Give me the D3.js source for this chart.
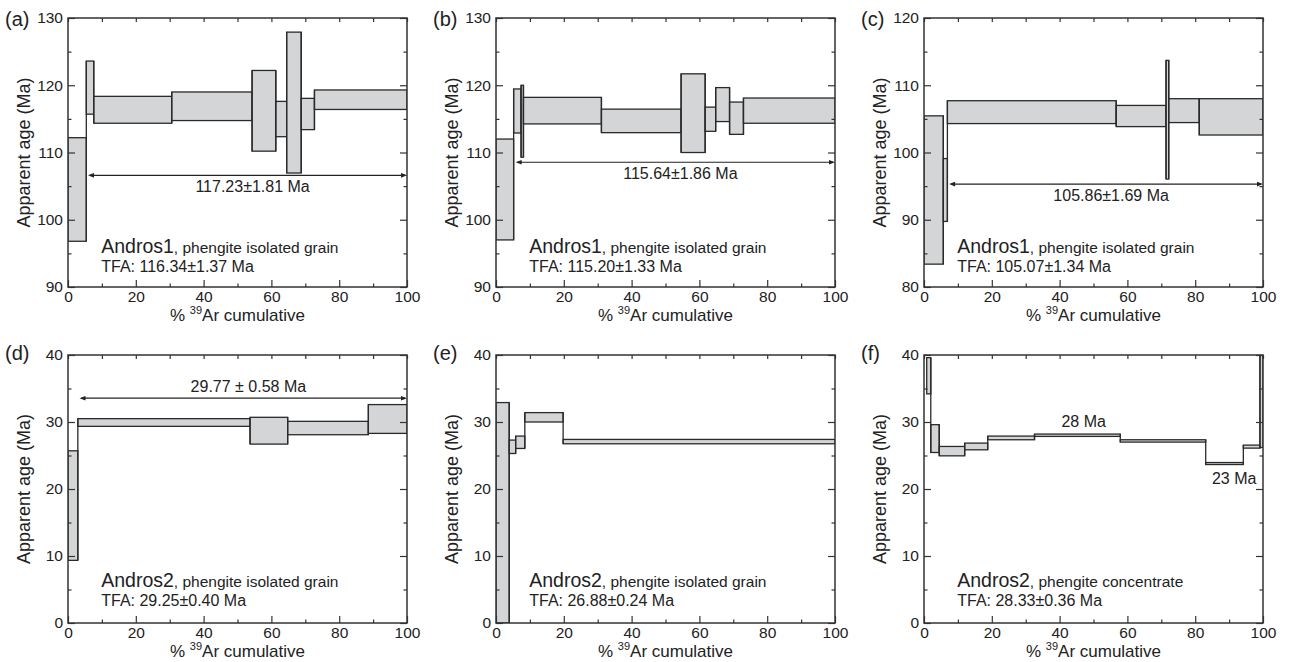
<!DOCTYPE html>
<html>
<head>
<meta charset="utf-8">
<script src="https://cdn.jsdelivr.net/npm/d3@7"></script>
<style>
  body { margin: 0; background: #fff; }
  text { font-family: "Liberation Sans", Arial, Helvetica, sans-serif; fill: #222; }
</style>
</head>
<body>
<div id="canvas"></div>
<script>
// step boundaries (% 39Ar cumulative) and age ranges (Ma)
var aX  = [0, 5.4, 7.6, 30.6, 54.3, 61.3, 64.5, 68.8, 72.7, 100];
var aLo = [96.8, 115.7, 114.35, 114.75, 110.2, 112.35, 106.95, 113.4, 116.4];
var aHi = [112.2, 123.6, 118.35, 119.0, 122.2, 117.6, 127.9, 118.05, 119.3];

var bX  = [0, 5.2, 7.4, 8.1, 31.1, 54.6, 61.7, 64.8, 68.9, 73.0, 100];
var bLo = [97.0, 112.9, 109.3, 114.25, 112.95, 110.0, 113.15, 114.6, 112.7, 114.35];
var bHi = [112.0, 119.45, 120.0, 118.2, 116.45, 121.7, 116.75, 119.65, 117.5, 118.1];

var cX  = [0, 5.7, 6.9, 56.7, 71.4, 72.2, 81.2, 100];
var cLo = [83.4, 89.75, 104.3, 103.85, 96.05, 104.45, 102.6];
var cHi = [105.45, 99.1, 107.7, 107.0, 113.7, 108.0, 108.0];

var dX  = [0, 2.9, 53.7, 64.8, 88.6, 100];
var dLo = [9.35, 29.35, 26.7, 28.1, 28.3];
var dHi = [25.7, 30.5, 30.7, 30.1, 32.6];

var eX  = [0, 3.9, 5.8, 8.5, 19.8, 100];
var eLo = [0, 25.3, 26.05, 30.0, 26.75];
var eHi = [32.9, 27.3, 27.9, 31.4, 27.4];

var fX  = [0.8, 2.0, 4.5, 12.0, 18.8, 32.6, 57.9, 83.1, 94.2, 99.1, 100];
var fLo = [34.2, 25.45, 24.95, 25.85, 27.35, 27.85, 27.0, 23.65, 26.1, 26.2];
var fHi = [39.6, 29.6, 26.35, 26.85, 27.9, 28.2, 27.35, 23.95, 26.55, 46];

// y ranges and tick labels
var yDomainA = [90, 130], yDomainC = [80, 120], yDomainD = [0, 40];
var xTicks = [0, 20, 40, 60, 80, 100];
var xMinor = [10, 30, 50, 70, 90];

// plateau arrows: [from %, to %, age], and their labels
var aPlateau = [5.9, 100, 106.6], aPlateauLabel = "117.23\u00b11.81 Ma";
var bPlateau = [5.8, 100, 108.55], bPlateauLabel = "115.64\u00b11.86 Ma";
var cPlateau = [7.4, 100, 95.3], cPlateauLabel = "105.86\u00b11.69 Ma";
var dPlateau = [3.4, 100, 33.55], dPlateauLabel = "29.77 \u00b1 0.58 Ma";

var sampleNames = ["Andros1", "Andros1", "Andros1", "Andros2", "Andros2", "Andros2"];
var sampleTypes = [", phengite isolated grain", ", phengite isolated grain", ", phengite isolated grain",
                   ", phengite isolated grain", ", phengite isolated grain", ", phengite concentrate"];
var tfaLabels = ["TFA: 116.34\u00b11.37 Ma", "TFA: 115.20\u00b11.33 Ma", "TFA: 105.07\u00b11.34 Ma",
                 "TFA: 29.25\u00b10.40 Ma", "TFA: 26.88\u00b10.24 Ma", "TFA: 28.33\u00b10.36 Ma"];
var panelTags = ["(a)", "(b)", "(c)", "(d)", "(e)", "(f)"];

var fLabels = [[47.1, 29.3, "28 Ma"], [91.5, 20.75, "23 Ma"]];

/* ---- layout ---- */
var colLeft = [68, 496, 924];
var rowTop = [18, 355];
var rowH = [269, 268];
var plotW = 339;

var svg = d3.select('#canvas').append('svg').attr('width', 1290).attr('height', 662);

function steps(xs, lo, hi) {
	var out = [];
	for (var i = 0; i < lo.length; i++) {
		out.push({ x0: xs[i], x1: xs[i + 1], lo: lo[i], hi: hi[i] });
	}
	return out;
}

// vertical risers joining one step to the next
function risers(xs, lo, hi) {
	var out = [];
	for (var i = 1; i < lo.length; i++) {
		out.push({ x: xs[i], lo: Math.min(lo[i - 1], lo[i]), hi: Math.max(hi[i - 1], hi[i]) });
	}
	return out;
}

var panels = [
	{ steps: steps(aX, aLo, aHi), joins: risers(aX, aLo, aHi), dom: yDomainA, plateau: aPlateau, plabel: aPlateauLabel, below: true },
	{ steps: steps(bX, bLo, bHi), joins: risers(bX, bLo, bHi), dom: yDomainA, plateau: bPlateau, plabel: bPlateauLabel, below: true },
	{ steps: steps(cX, cLo, cHi), joins: risers(cX, cLo, cHi), dom: yDomainC, plateau: cPlateau, plabel: cPlateauLabel, below: true },
	{ steps: steps(dX, dLo, dHi), joins: risers(dX, dLo, dHi), dom: yDomainD, plateau: dPlateau, plabel: dPlateauLabel, below: false },
	{ steps: steps(eX, eLo, eHi), joins: risers(eX, eLo, eHi), dom: yDomainD },
	{ steps: steps(fX, fLo, fHi), joins: risers(fX, fLo, fHi), dom: yDomainD, extra: fLabels }
];

panels.forEach(function (p, k) {
	var row = Math.floor(k / 3), col = k % 3;
	var left = colLeft[col], top = rowTop[row], h = rowH[row];

	var x = d3.scaleLinear().domain([0, 100]).range([0, plotW]);
	var y = d3.scaleLinear().domain(p.dom).range([h, 0]);
	var yMajor = d3.range(p.dom[0], p.dom[1] + 1, 10);
	var yMinor = d3.range(p.dom[0] + 5, p.dom[1], 10);

	var g = svg.append('g').attr('transform', 'translate(' + left + ',' + top + ')');

	g.append('clipPath').attr('id', 'clip' + k)
		.append('rect').attr('width', plotW).attr('height', h);

	// age spectrum steps
	var spec = g.append('g').attr('clip-path', 'url(#clip' + k + ')');
	spec.selectAll('rect')
		.data(p.steps)
		.enter()
		.append('rect')
		.attr('x', function (d) { return x(d.x0); })
		.attr('width', function (d) { return x(d.x1) - x(d.x0); })
		.attr('y', function (d) { return y(d.hi); })
		.attr('height', function (d) { return y(d.lo) - y(d.hi); })
		.attr('fill', '#d4d5d7')
		.attr('stroke', '#2a2a2a')
		.attr('stroke-width', 1.3);
	spec.selectAll('line')
		.data(p.joins)
		.enter()
		.append('line')
		.attr('x1', function (d) { return x(d.x); })
		.attr('x2', function (d) { return x(d.x); })
		.attr('y1', function (d) { return y(d.lo); })
		.attr('y2', function (d) { return y(d.hi); })
		.attr('stroke', '#2a2a2a')
		.attr('stroke-width', 1.3);

	// axes, ticks pointing inward on all four sides
	function styleAxis(sel) {
		sel.select('.domain').remove();
		sel.selectAll('line').attr('stroke', '#333').attr('stroke-width', 1.2);
		sel.selectAll('text').attr('font-size', 15.5).style('fill', '#222')
			.attr('font-family', '"Liberation Sans", Arial, sans-serif');
	}

	g.append('g').attr('transform', 'translate(0,' + h + ')')
		.call(d3.axisBottom(x).tickValues(xTicks).tickSizeInner(-7).tickSizeOuter(0).tickPadding(3.5))
		.call(styleAxis);
	g.append('g').attr('transform', 'translate(0,' + h + ')')
		.call(d3.axisBottom(x).tickValues(xMinor).tickSize(-3.5).tickFormat(''))
		.call(styleAxis);
	g.append('g')
		.call(d3.axisTop(x).tickValues(xTicks.concat(xMinor)).tickSize(-4).tickFormat(''))
		.call(styleAxis);

	g.append('g')
		.call(d3.axisLeft(y).tickValues(yMajor).tickSizeInner(-7).tickSizeOuter(0).tickPadding(5).tickFormat(d3.format('d')))
		.call(styleAxis);
	g.append('g')
		.call(d3.axisLeft(y).tickValues(yMinor).tickSize(-3.5).tickFormat(''))
		.call(styleAxis);
	g.append('g').attr('transform', 'translate(' + plotW + ',0)')
		.call(d3.axisRight(y).tickValues(yMajor).tickSize(-7).tickFormat(''))
		.call(styleAxis);
	g.append('g').attr('transform', 'translate(' + plotW + ',0)')
		.call(d3.axisRight(y).tickValues(yMinor).tickSize(-3.5).tickFormat(''))
		.call(styleAxis);

	// frame
	g.append('rect').attr('width', plotW).attr('height', h)
		.attr('fill', 'none').attr('stroke', '#333').attr('stroke-width', 1.5);

	// plateau double arrow
	if (p.plateau) {
		var ax0 = x(p.plateau[0]), ax1 = x(p.plateau[1]), ay = y(p.plateau[2]);
		g.append('line').attr('x1', ax0 + 2).attr('x2', ax1 - 2).attr('y1', ay).attr('y2', ay)
			.attr('stroke', '#222').attr('stroke-width', 1.2);
		g.append('path')
			.attr('d', 'M' + ax0 + ',' + ay + 'l6,-2.3v4.6z M' + ax1 + ',' + ay + 'l-6,-2.3v4.6z')
			.attr('fill', '#222');
		g.append('text')
			.attr('x', x((p.plateau[0] + p.plateau[1]) / 2 + 1.5))
			.attr('y', p.below ? ay + 16.5 : ay - 6)
			.attr('text-anchor', 'middle')
			.attr('font-size', 16)
			.text(p.plabel);
	}

	if (p.extra) {
		g.selectAll('.lab').data(p.extra).enter().append('text')
			.attr('x', function (d) { return x(d[0]); })
			.attr('y', function (d) { return y(d[1]); })
			.attr('text-anchor', 'middle')
			.attr('font-size', 16)
			.text(function (d) { return d[2]; });
	}

	// sample annotation
	var offs = row == 0 ? [34, 15] : [36.5, 17];
	var t = g.append('text').attr('x', x(9.8)).attr('y', h - offs[0]);
	t.append('tspan').attr('font-size', 19.5).text(sampleNames[k]);
	t.append('tspan').attr('font-size', 15.5).text(sampleTypes[k]);
	g.append('text').attr('x', x(9.8)).attr('y', h - offs[1])
		.attr('font-size', 16).text(tfaLabels[k]);

	// axis titles
	g.append('text')
		.attr('transform', 'translate(-38,' + (h / 2) + ') rotate(-90)')
		.attr('text-anchor', 'middle')
		.attr('font-size', 18)
		.text('Apparent age (Ma)');
	var xt = g.append('text')
		.attr('x', plotW / 2).attr('y', h + 34)
		.attr('text-anchor', 'middle')
		.attr('font-size', 17);
	xt.append('tspan').text('% ');
	xt.append('tspan').attr('font-size', 11).attr('dy', -7).text('39');
	xt.append('tspan').attr('dy', 7).text('Ar cumulative');

	// panel tag
	svg.append('text')
		.attr('x', left - 63).attr('y', row == 0 ? 26 : 360)
		.attr('font-size', 20)
		.text(panelTags[k]);
});
</script>
</body>
</html>
